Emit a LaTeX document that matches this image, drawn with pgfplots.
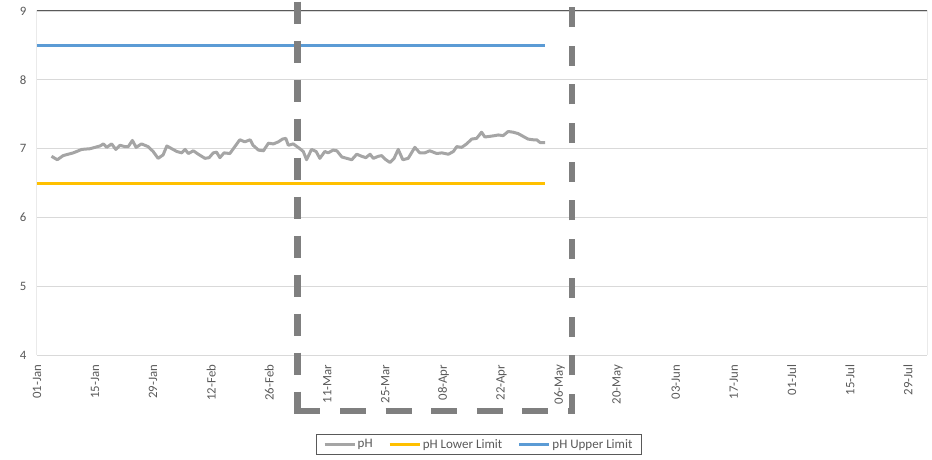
\documentclass[border=0pt]{standalone}
\usepackage{pgfplots}
\pgfplotsset{compat=1.18}
\usepackage{fontspec}
\setmainfont{Carlito}
\definecolor{phgray}{HTML}{A5A5A5}
\definecolor{lowc}{HTML}{FFC000}
\definecolor{upc}{HTML}{5B9BD5}
\definecolor{txt}{HTML}{595959}
\definecolor{gridc}{HTML}{D9D9D9}
\definecolor{boxc}{HTML}{7F7F7F}
\definecolor{framec}{HTML}{595959}
\pgfplotstableread{
day ph
3.5 6.89
4.9 6.84
6.3 6.90
8.75 6.94
10.8 6.99
12.8 7.00
15.2 7.04
16 7.07
16.8 7.02
18 7.07
19 6.99
20 7.05
21.2 7.03
22 7.03
23 7.12
23.9 7.02
25.2 7.07
26.8 7.03
28 6.96
29.2 6.86
30.4 6.91
31.3 7.04
32.5 7.00
33.7 6.96
34.9 6.94
35.7 6.99
36.5 6.93
37.7 6.97
38.9 6.92
40.5 6.86
41.5 6.87
42.5 6.94
43.3 6.95
44.1 6.87
45.1 6.94
46.5 6.93
47.7 7.03
48.9 7.13
50.1 7.10
51.4 7.13
52.1 7.05
53.4 6.98
54.6 6.97
55.8 7.08
57 7.07
58.2 7.10
59.2 7.14
60 7.15
60.6 7.05
61.8 7.07
63.4 7.00
64.2 6.96
65 6.84
66.2 6.99
67.3 6.96
68.2 6.86
69.4 6.96
70.2 6.94
71.4 6.98
72.3 6.97
73.5 6.88
74.7 6.86
75.9 6.84
77.1 6.92
78.3 6.89
79.3 6.87
80.3 6.92
81.1 6.86
82.3 6.89
83.1 6.90
83.9 6.85
85.1 6.80
86.1 6.86
87.1 6.99
88.2 6.84
89.5 6.86
91.1 7.02
92.3 6.94
93.5 6.94
94.7 6.97
96.4 6.93
97.6 6.94
98.4 6.93
99.2 6.92
100.4 6.96
101.2 7.03
102.4 7.02
103.6 7.07
104.8 7.14
106 7.15
107.2 7.24
108 7.17
109.2 7.18
110.4 7.19
111.2 7.20
112.4 7.19
113.6 7.25
114.8 7.24
116 7.22
117.2 7.18
118.4 7.14
119.6 7.13
120.5 7.13
121.3 7.09
122.5 7.09
}\phdata
\begin{document}
\begin{tikzpicture}
\path[use as bounding box] (-37pt,-104.7pt) rectangle (895pt,355.3pt);
\begin{axis}[
  scale only axis, width=890pt, height=344.3pt,
  xmin=0, xmax=214.6, ymin=4, ymax=9,
  ytick={4,5,6,7,8,9},
  xtick={0,14,...,210},
  xticklabels={01-Jan,15-Jan,29-Jan,12-Feb,26-Feb,11-Mar,25-Mar,08-Apr,22-Apr,06-May,20-May,03-Jun,17-Jun,01-Jul,15-Jul,29-Jul},
  ymajorgrids, major grid style={gridc, line width=0.8pt},
  axis line style={draw=none},
  major tick length=0pt,
  /pgf/number format/assume math mode=true,
  tick label style={font=\fontsize{12.8}{14}\selectfont, text=txt},
  yticklabel style={xshift=-7pt},
  xticklabel style={rotate=90, anchor=east, yshift=0pt, xshift=-6pt},
  legend style={at={(0.4966,-0.259)}, anchor=center, legend columns=3,
    draw=framec, line width=0.8pt, font=\fontsize{13}{15}\selectfont, text=txt,
    inner xsep=7pt, inner ysep=3pt,
    /tikz/every odd column/.append style={column sep=0pt},
    /tikz/every even column/.append style={column sep=14pt}},
  legend image code/.code={\draw[#1, line width=2.2pt] (0pt,0pt) -- (30pt,0pt);},
]
\addplot[phgray, line width=3pt, line join=round] table[x=day, y=ph] {\phdata};
\addlegendentry{pH}
\addplot[lowc, line width=3pt] coordinates {(0,6.5) (122.5,6.5)};
\addlegendentry{pH Lower Limit}
\addplot[upc, line width=3pt] coordinates {(0,8.5) (122.5,8.5)};
\addlegendentry{pH Upper Limit}
\draw[framec, line width=1pt] (rel axis cs:0,0) -- (rel axis cs:0,1) -- (rel axis cs:1,1) -- (rel axis cs:1,0);
\end{axis}
\draw[boxc, line width=6.5pt, dash pattern=on 22pt off 17pt] (260.7pt,392.6pt) -- (260.7pt,-55.7pt);
\draw[boxc, line width=6.5pt, dash pattern=on 26pt off 19.6pt] (257.4pt,-55.7pt) -- (538.3pt,-55.7pt);
\draw[boxc, line width=6.5pt, dash pattern=on 20pt off 18.7pt] (535pt,-58.7pt) -- (535pt,395.3pt);
\end{tikzpicture}
\end{document}
